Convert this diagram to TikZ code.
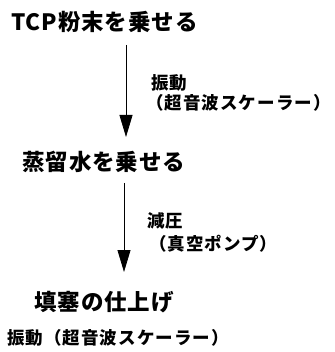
\documentclass[tikz,border=0pt]{standalone}
\usepackage{fontspec}
\usetikzlibrary{arrows.meta}
\newfontfamily\jp{Noto Sans CJK JP}
\tikzset{
  title/.style={anchor=west, inner sep=0pt, font=\jp\bfseries\fontsize{22.5}{22.5}\selectfont\addfontfeature{LetterSpace=4}},
  lab/.style={anchor=west, inner sep=0pt, font=\jp\bfseries\fontsize{17.5}{17.5}\selectfont\addfontfeature{LetterSpace=6}},
  flow/.style={line width=0.8pt, -{Triangle[length=22pt,width=13pt]}},
}
\begin{document}
\begin{tikzpicture}[x=1pt,y=-1pt]
\useasboundingbox (0,0) rectangle (334,352);
\node[title] (t1) at (11,22) {TCP粉末を乗せる};
\node[title] (t2) at (22,162) {蒸留水を乗せる};
\node[title] (t3) at (34,302) {填塞の仕上げ};
\node[lab] (t4) at (7,338) {振動（超音波スケーラー）};
\node[lab] (l1a) at (151,83) {振動};
\node[lab] (l1b) at (146,103) {（超音波スケーラー）};
\node[lab] (l2a) at (147,221) {減圧};
\node[lab] (l2b) at (149,244) {（真空ポンプ）};
\coordinate (a1s) at (126,45);
\coordinate (a1e) at (126,137);
\coordinate (a2s) at (124,183);
\coordinate (a2e) at (124,272);
\draw[flow] (a1s) -- (a1e);
\draw[flow] (a2s) -- (a2e);
\end{tikzpicture}
\end{document}
